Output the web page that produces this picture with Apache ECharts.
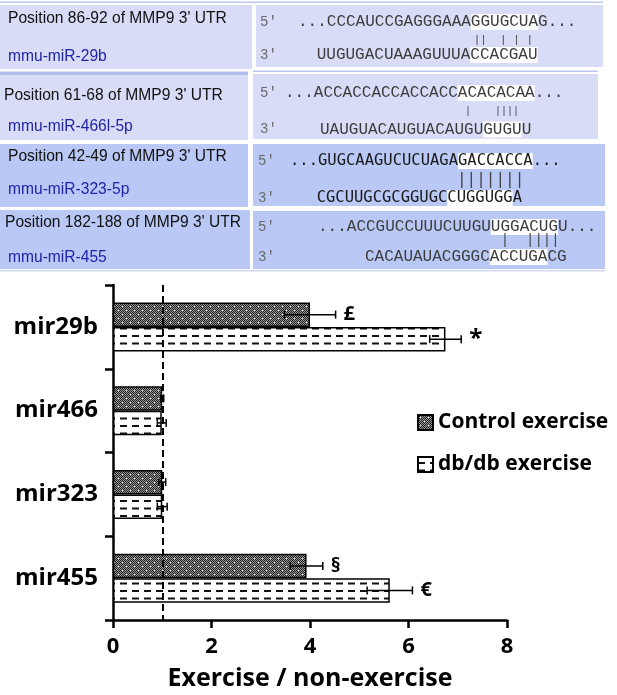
<!DOCTYPE html>
<html><head><meta charset="utf-8">
<script src="https://cdn.jsdelivr.net/npm/echarts@6/dist/echarts.min.js"></script>
<style>html,body{margin:0;padding:0;background:#fff}#c{width:617px;height:695px}</style>
</head><body><div id="c"></div>
<script>
// ---------------- data ----------------
const CATEGORIES = ['mir29b', 'mir466', 'mir323', 'mir455'];
const SERIES_NAMES = ['Control exercise', 'db/db exercise'];
const CONTROL = [4.0, 1.0, 1.0, 3.93];
const CONTROL_ERR = [0.52, 0.03, 0.07, 0.33];
const DBDB = [6.75, 0.99, 1.0, 5.62];
const DBDB_ERR = [0.32, 0.09, 0.1, 0.46];
const CONTROL_MARKS = ['£', '', '', '§'];
const DBDB_MARKS = ['*', '', '', '€'];
const REF_VALUE = 1;
const X_MIN = 0, X_MAX = 8, X_STEP = 2;
const X_TITLE = 'Exercise / non-exercise';

const PANEL_POSITIONS = ["Position 86-92 of MMP9 3' UTR", "Position 61-68 of MMP9 3' UTR", "Position 42-49 of MMP9 3' UTR", "Position 182-188 of MMP9 3' UTR"];
const PANEL_MIRNAS = ['mmu-miR-29b', 'mmu-miR-466l-5p', 'mmu-miR-323-5p', 'mmu-miR-455'];
// [plain, highlighted, plain]
const PANEL_TARGETS = [
  ['...CCCAUCCGAGGGAAA', 'GGUGCUA', 'G...'],
  ['...ACCACCACCACCACC', 'ACACACAA', '...'],
  ['...GUGCAAGUCUCUAGA', 'GACCACCA', '...'],
  ['...ACCGUCCUUUCUUGU', 'UGGACUG', 'U...']
];
const PANEL_MIRS = [
  ['UUGUGACUAAAGUUUA', 'CCACGAU', ''],
  ['UAUGUACAUGUACAUGU', 'GUGU', 'U'],
  ['CGCUUGCGCGGUGC', 'CUGGUGG', 'A'],
  ['CACAUAUACGGGC', 'ACCUGA', 'CG']
];
const PANEL_PAIRS = ['||  | | |', '|    ||||', '|||||||', '|  ||||'];
const END5 = "5'", END3 = "3'";

// ---------------- layout / style ----------------
const BAR_W = 24.5, CAP = 4;
const FONT = '"Open Sans", "Noto Sans", sans-serif';
const PANEL_LAYOUT = [
  {fill:'#d9dcf6', left:[0,5,252,64], right:[256,5,347,62], posX:8, posY:19, mirY:57, endX:260, topY:22, botY:55, pairY:40, topX:298, botX:316.7, pairX:477, font:'Liberation Mono', size:16, pairSize:11, color:'#3c3c3c'},
  {fill:'#d9dcf6', left:[0,75,248,65], right:[253,74,345,65], posX:4, posY:96, mirY:127, endX:260, topY:93, botY:129.5, pairY:111, topX:285, botX:320, pairX:468, font:'Liberation Mono', size:16, pairSize:10, color:'#3c3c3c'},
  {fill:'#b9c8f4', left:[0,144,248,63], right:[253,144,352,62], posX:8, posY:157, mirY:190, endX:258, topY:161, botY:198, pairY:180, topX:290, botX:316.7, pairX:461.7, font:'DejaVu Sans Mono', size:15.5, pairSize:16, color:'#1a1a1a'},
  {fill:'#b9c8f4', left:[0,210,250,59], right:[253,211,352,58], posX:5, posY:223, mirY:258, endX:258, topY:227, botY:257, pairY:240.5, topX:318, botX:365, pairX:505, font:'Liberation Mono', size:16, pairSize:14, color:'#3c3c3c'}
];

function richText(parts, x, y, L) {
  const txt = parts.map((p, k) => p ? '{' + (k === 1 ? 'h' : 'n') + '|' + p + '}' : '').join('');
  const base = {fill: L.color, fontFamily: L.font, fontSize: L.size, lineHeight: 14};
  return {type:'text', x, y, z: 10, silent: true, style: {
    text: txt, align:'left', textAlign:'left', verticalAlign:'middle', textVerticalAlign:'middle',
    fontFamily: L.font, fontSize: L.size, fill: L.color,
    rich: {n: base, h: Object.assign({}, base, {backgroundColor:'#ffffff'})}
  }};
}

function buildPanels() {
  const els = [];
  els.push({type:'rect', shape:{x:0, y:1.5, width:603, height:1.5}, style:{fill:'#bcc6ef'}, silent:true});
  els.push({type:'rect', shape:{x:0, y:71.5, width:248, height:3.5}, style:{fill:'#b1bdec'}, silent:true});
  els.push({type:'rect', shape:{x:253, y:70.5, width:345, height:1.5}, style:{fill:'#bcc6ef'}, silent:true});
  els.push({type:'rect', shape:{x:0, y:270, width:605, height:1.5}, style:{fill:'#d3daf6'}, silent:true});
  PANEL_LAYOUT.forEach((L, i) => {
    els.push({type:'rect', shape:{x:L.left[0], y:L.left[1], width:L.left[2], height:L.left[3]}, style:{fill:L.fill}, silent:true});
    els.push({type:'rect', shape:{x:L.right[0], y:L.right[1], width:L.right[2], height:L.right[3]}, style:{fill:L.fill}, silent:true});
    els.push({type:'text', x:L.posX, y:L.posY, z:10, silent:true, style:{text:PANEL_POSITIONS[i], fontFamily:'Liberation Sans', fontSize:15.6, fill:'#111', align:'left', textAlign:'left', verticalAlign:'middle', textVerticalAlign:'middle'}});
    els.push({type:'text', x:8, y:L.mirY, z:10, silent:true, style:{text:PANEL_MIRNAS[i], fontFamily:'Liberation Sans', fontSize:15.6, fill:'#2023a8', align:'left', textAlign:'left', verticalAlign:'middle', textVerticalAlign:'middle'}});
    els.push({type:'text', x:L.endX, y:L.topY, z:10, silent:true, style:{text:END5, fontFamily:'Liberation Mono', fontSize:14, fill:'#6a6a6a', align:'left', textAlign:'left', verticalAlign:'middle', textVerticalAlign:'middle'}});
    els.push({type:'text', x:L.endX, y:L.botY, z:10, silent:true, style:{text:END3, fontFamily:'Liberation Mono', fontSize:14, fill:'#6a6a6a', align:'left', textAlign:'left', verticalAlign:'middle', textVerticalAlign:'middle'}});
    els.push(richText(PANEL_TARGETS[i], L.topX, L.topY, L));
    els.push(richText(PANEL_MIRS[i], L.botX, L.botY, L));
    const pf = i === 2 ? 'DejaVu Sans Mono' : 'Liberation Mono';
    const cw = L.pairSize * 0.6;
    els.push({type:'text', x:L.pairX - cw / 2, y:L.pairY, z:10, silent:true, style:{text:PANEL_PAIRS[i], fontFamily:pf, fontSize:L.pairSize, fill:'#444', align:'left', textAlign:'left', verticalAlign:'middle', textVerticalAlign:'middle'}});
  });
  return els;
}

function checkerPattern() {
  const c = document.createElement('canvas');
  c.width = 8; c.height = 8;
  const g = c.getContext('2d');
  for (let y = 0; y < 8; y++) for (let x = 0; x < 8; x++) {
    g.fillStyle = ((x + y) % 2 === 0) ? '#1c1c1c' : '#9a9a9a';
    g.fillRect(x, y, 1, 1);
  }
  g.fillStyle = '#ffffff';
  g.fillRect(2, 2, 1, 1); g.fillRect(6, 6, 1, 1);
  return c;
}
function dashPattern() {
  const c = document.createElement('canvas');
  c.width = 12; c.height = 15;
  const g = c.getContext('2d');
  g.fillStyle = '#ffffff'; g.fillRect(0, 0, 12, 15);
  g.fillStyle = '#111';
  g.fillRect(0, 5, 7, 2); g.fillRect(0, 12.5, 7, 2);
  return c;
}

function errorSeries(values, errs, marks, sign) {
  return {
    type: 'custom', z: 6, silent: true,
    data: values.map((v, i) => [v, i, errs[i]]),
    encode: {x: 0, y: 1},
    renderItem(params, api) {
      const v = api.value(0), i = api.value(1), e = api.value(2);
      const c = api.coord([v, i]);
      const y = c[1] + sign * BAR_W / 2;
      const lo = api.coord([v - e, i])[0], hi = api.coord([v + e, i])[0];
      const st = {stroke:'#000', lineWidth:1.5};
      const ch = [
        {type:'line', shape:{x1:lo, y1:y, x2:hi, y2:y}, style:st},
        {type:'line', shape:{x1:lo, y1:y - CAP, x2:lo, y2:y + CAP}, style:st},
        {type:'line', shape:{x1:hi, y1:y - CAP, x2:hi, y2:y + CAP}, style:st}
      ];
      const m = marks[params.dataIndex];
      if (m) ch.push({type:'text', style:{text:m, x:hi + 8, y:y, fontFamily:FONT, fontWeight:'bold', fontSize:m === '*' ? 24 : 20, fill:'#000', align:'left', verticalAlign:'middle'}});
      return {type:'group', children: ch};
    }
  };
}

const chart = echarts.init(document.getElementById('c'), null, {renderer:'canvas'});
const axisLine = {show:true, lineStyle:{color:'#000', width:2.5}};
const axisTick = {show:true, length:8, lineStyle:{color:'#000', width:2.5}};
chart.setOption({
  animation: false,
  backgroundColor: '#fff',
  graphic: buildPanels(),
  grid: {left:113, right:110, top:285, bottom:75, outerBoundsMode:'none', containLabel:false},
  legend: {
    orient:'vertical', left:412, top:407, itemWidth:15, itemHeight:15, itemGap:21, icon:'rect',
    textStyle:{fontFamily:FONT, fontWeight:'bold', fontSize:21, color:'#000'},
    data: SERIES_NAMES
  },
  xAxis: {
    type:'value', min:X_MIN, max:X_MAX, interval:X_STEP,
    axisLine, axisTick, splitLine:{show:false},
    axisLabel:{fontFamily:FONT, fontWeight:'bold', fontSize:22, color:'#000', margin:16},
    name: X_TITLE, nameLocation:'middle', nameGap:46,
    nameTextStyle:{fontFamily:FONT, fontWeight:'bold', fontSize:25, color:'#000'}
  },
  yAxis: {
    type:'category', data:CATEGORIES, inverse:true,
    axisLine, axisTick,
    axisLabel:{fontFamily:FONT, fontWeight:'bold', fontSize:24, color:'#000', margin:15}
  },
  series: [
    {name:SERIES_NAMES[0], type:'bar', data:CONTROL, barWidth:BAR_W, barGap:'0%', z:2,
     itemStyle:{color:{image:checkerPattern(), repeat:'repeat'}, borderColor:'#000', borderWidth:1.5}},
    {name:SERIES_NAMES[1], type:'bar', data:DBDB, barWidth:BAR_W, barGap:'0%', z:2,
     itemStyle:{color:{image:dashPattern(), repeat:'repeat'}, borderColor:'#000', borderWidth:1.5}},
    Object.assign(errorSeries(CONTROL, CONTROL_ERR, CONTROL_MARKS, -1), {
      markLine:{silent:true, symbol:'none', label:{show:false}, animation:false,
        lineStyle:{color:'#000', type:[7,4], width:2}, data:[{xAxis:REF_VALUE}]}
    }),
    errorSeries(DBDB, DBDB_ERR, DBDB_MARKS, 1)
  ]
});
</script></body></html>
